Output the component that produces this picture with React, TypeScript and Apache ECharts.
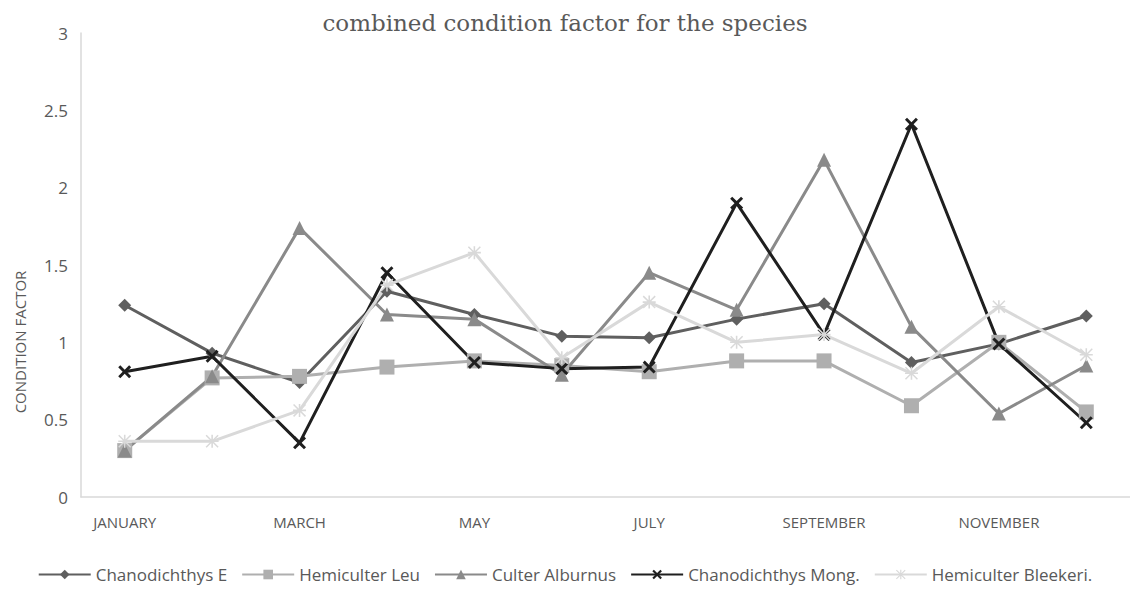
import React, { useEffect, useRef } from "react";
import * as echarts from "echarts";

const months = [
  "JANUARY", "FEBRUARY", "MARCH", "APRIL", "MAY", "JUNE",
  "JULY", "AUGUST", "SEPTEMBER", "OCTOBER", "NOVEMBER", "DECEMBER",
];
const chanodichthysE = [1.24, 0.93, 0.74, 1.33, 1.18, 1.04, 1.03, 1.15, 1.25, 0.87, 0.99, 1.17];
const hemiculterLeu = [0.3, 0.77, 0.78, 0.84, 0.88, 0.85, 0.81, 0.88, 0.88, 0.59, 1.0, 0.55];
const culterAlburnus = [0.3, 0.78, 1.74, 1.18, 1.15, 0.79, 1.45, 1.21, 2.18, 1.1, 0.54, 0.85];
const chanodichthysMong = [0.81, 0.91, 0.35, 1.45, 0.87, 0.83, 0.84, 1.9, 1.05, 2.41, 0.99, 0.48];
const hemiculterBleekeri = [0.36, 0.36, 0.56, 1.37, 1.58, 0.9, 1.26, 1.0, 1.05, 0.8, 1.23, 0.92];
const yTicks = { min: 0, max: 3, interval: 0.5 };

const X_SYMBOL =
  "path://M1.6,0L5,3.4L8.4,0L10,1.6L6.6,5L10,8.4L8.4,10L5,6.6L1.6,10L0,8.4L3.4,5L0,1.6Z";
const STAR_SYMBOL =
  "path://M4.4,0H5.6V10H4.4Z M0,4.4H10V5.6H0Z M0,0.8L0.8,0L10,9.2L9.2,10Z M9.2,0L10,0.8L0.8,10L0,9.2Z";

export default function App() {
  const ref = useRef<HTMLDivElement>(null);
  useEffect(() => {
    document.body.style.margin = "0";
    const chart = echarts.init(ref.current!, undefined, { renderer: "svg" });
    const mk = (name: string, data: number[], color: string, symbol: string, size: number, width = 3) => ({
      name,
      type: "line",
      data,
      symbol,
      symbolSize: size,
      showSymbol: true,
      lineStyle: { color, width },
      itemStyle: { color },
      z: 2,
    });
    chart.setOption({
      animation: false,
      title: {
        text: "combined condition factor for the species",
        left: "center",
        top: 6,
        textStyle: {
          fontFamily: "DejaVu Serif",
          fontSize: 23,
          fontWeight: "normal",
          color: "#595959",
        },
      },
      grid: { left: 81, width: 1058, top: 33, height: 464 },
      xAxis: {
        type: "category",
        data: months,
        boundaryGap: true,
        axisLine: { lineStyle: { color: "#d9d9d9", width: 1.5 } },
        axisTick: { show: false },
        axisLabel: {
          interval: 1,
          margin: 17,
          fontFamily: "Open Sans",
          fontSize: 15,
          color: "#595959",
        },
      },
      yAxis: {
        type: "value",
        min: yTicks.min,
        max: yTicks.max,
        interval: yTicks.interval,
        axisLine: { show: true, lineStyle: { color: "#d9d9d9", width: 1.5 } },
        axisTick: { show: false },
        splitLine: { show: false },
        axisLabel: {
          margin: 13,
          fontFamily: "Open Sans",
          fontSize: 17,
          color: "#595959",
        },
      },
      graphic: [
        {
          type: "text",
          x: 20,
          y: 342,
          rotation: Math.PI / 2,
          style: {
            text: "CONDITION FACTOR",
            fontFamily: "Open Sans",
            fontSize: 15,
            fill: "#595959",
            align: "center",
            verticalAlign: "middle",
          },
        },
      ],
      legend: {
        bottom: 2,
        left: "center",
        itemWidth: 52,
        itemHeight: 12,
        itemGap: 14,
        textStyle: { fontFamily: "Open Sans", fontSize: 17, color: "#595959" },
        data: [
          "Chanodichthys E",
          "Hemiculter Leu",
          "Culter Alburnus",
          "Chanodichthys Mong.",
          "Hemiculter Bleekeri.",
        ],
      },
      series: [
        mk("Chanodichthys E", chanodichthysE, "#5f5f5f", "diamond", 13),
        mk("Hemiculter Leu", hemiculterLeu, "#afafaf", "rect", 15),
        mk("Culter Alburnus", culterAlburnus, "#8a8a8a", "triangle", 14),
        mk("Chanodichthys Mong.", chanodichthysMong, "#1f1f1f", X_SYMBOL, 13),
        mk("Hemiculter Bleekeri.", hemiculterBleekeri, "#d9d9d9", STAR_SYMBOL, 13),
      ],
    });
    return () => chart.dispose();
  }, []);
  return <div ref={ref} style={{ width: 1130, height: 590 }} />;
}
